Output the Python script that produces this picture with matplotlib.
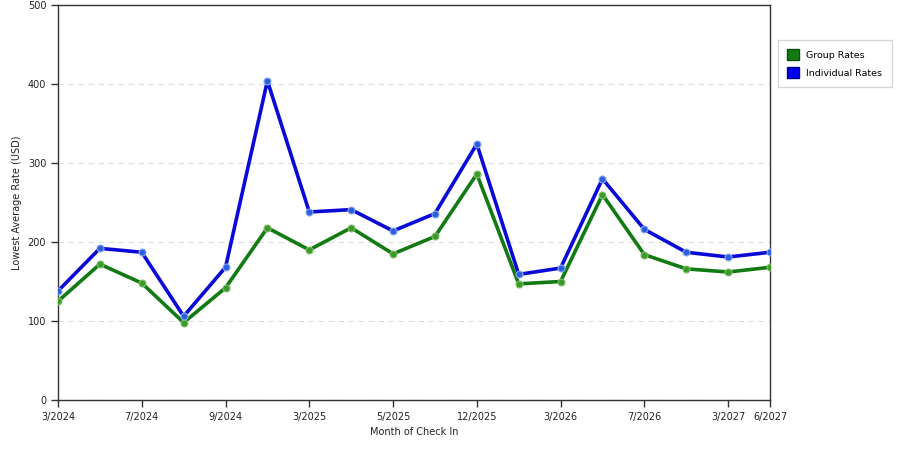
import matplotlib
matplotlib.use("Agg")
import matplotlib.pyplot as plt
from matplotlib.patches import Patch

months = ["3/2024", "5/2024", "7/2024", "8/2024", "9/2024", "11/2024", "3/2025", "4/2025",
          "5/2025", "8/2025", "12/2025", "2/2026", "3/2026", "5/2026", "7/2026", "10/2026",
          "3/2027", "6/2027"]
tick_labels = ["3/2024", "7/2024", "9/2024", "3/2025", "5/2025", "12/2025", "3/2026", "7/2026", "3/2027", "6/2027"]
tick_idx = [0, 2, 4, 6, 8, 10, 12, 14, 16, 17]
group_rates = [125, 172, 148, 98, 142, 218, 190, 218, 185, 207, 286, 147, 150, 260, 184, 166, 162, 168]
individual_rates = [138, 192, 187, 106, 168, 404, 238, 241, 214, 236, 324, 159, 167, 280, 216, 187, 181, 187]

plt.rcParams['font.family'] = ['DejaVu Sans']
fig = plt.figure(figsize=(9, 4.5), dpi=100)
ax = fig.add_axes([58/900, 1-400/450, (770-58)/900, (400-5)/450])

x = list(range(len(months)))
gc = "#127a12"
bc = "#0a0ad8"
ax.plot(x, group_rates, color=gc, lw=2.6, marker='o', ms=5, mfc="#3c9a2a", mec="#7fbf6a", mew=0.8, zorder=3)
ax.plot(x, individual_rates, color=bc, lw=2.6, marker='o', ms=5, mfc="#2a5fe0", mec="#8aa8f0", mew=0.8, zorder=4)

ax.set_xlim(0, len(months) - 1)
ax.set_ylim(0, 500)
ax.set_xticks(tick_idx)
ax.set_xticklabels(tick_labels)
ax.set_yticks([0, 100, 200, 300, 400, 500])
ax.tick_params(axis='both', labelsize=7, length=5, width=1, color="#333333", direction='out', labelcolor="#222222")
ax.yaxis.grid(True, color="#dddddd", linestyle=(0, (5, 4)), lw=0.8)
ax.set_axisbelow(True)
for s in ax.spines.values():
    s.set_color("#333333")
    s.set_linewidth(1)
ax.set_xlabel("Month of Check In", fontsize=7, color="#222222")
ax.set_ylabel("Lowest Average Rate (USD)", fontsize=7, color="#222222")

handles = [Patch(facecolor="#127a12", edgecolor="#0b4d0b", label="Group Rates"),
           Patch(facecolor="#0000ee", edgecolor="#00008a", label="Individual Rates")]
leg = fig.legend(handles=handles, loc='upper left', bbox_to_anchor=(778/900, 1-40/450),
                 fontsize=6.8, frameon=True, fancybox=False, edgecolor="#cccccc",
                 handlelength=1.2, handleheight=1.3, borderpad=1.0, labelspacing=0.8,
                 handletextpad=0.8, borderaxespad=0)

fig.savefig("out.png", dpi=100)
